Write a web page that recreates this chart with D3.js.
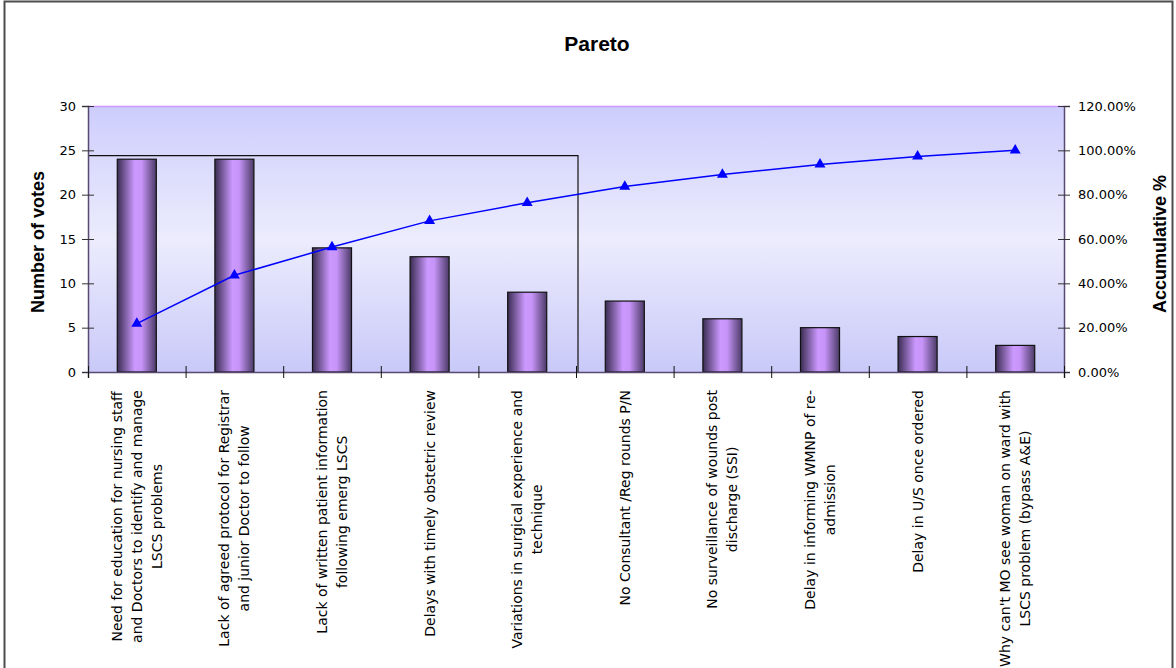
<!DOCTYPE html>
<html>
<head>
<meta charset="utf-8">
<script src="https://cdn.jsdelivr.net/npm/d3@7/dist/d3.min.js"></script>
<style>
  body { margin: 0; background: #fff; }
  svg { display: block; }
</style>
</head>
<body>
<svg id="chart" width="1176" height="668"></svg>
<script>
// values
const categories = [
  "Need for education for nursing staff\nand Doctors to identify and manage\nLSCS problems",
  "Lack of agreed protocol for Registrar\nand junior Doctor to follow",
  "Lack of written patient information\nfollowing emerg LSCS",
  "Delays with timely obstetric review",
  "Variations in surgical experience and\ntechnique",
  "No Consultant /Reg rounds P/N",
  "No surveillance of wounds post\ndischarge (SSI)",
  "Delay in informing WMNP of re-\nadmission",
  "Delay in U/S once ordered",
  "Why can't MO see woman on ward with\nLSCS problem (bypass A&E)"
];
const votes = [24, 24, 14, 13, 9, 8, 6, 5, 4, 3];
const cumulative = [21.82, 43.64, 56.36, 68.18, 76.36, 83.64, 89.09, 93.64, 97.27, 100];
const voteTicks = [0, 5, 10, 15, 20, 25, 30];
const pctTicks = [0, 20, 40, 60, 80, 100, 120];
const focusCount = 5;     // categories inside the hand-drawn box
const focusLevel = 24.4;  // box top, in votes

const plot = { left: 88, right: 1064, top: 106, bottom: 372 };

const svg = d3.select("#chart");
const defs = svg.append("defs");

const bg = defs.append("linearGradient").attr("id", "plotBg")
  .attr("x1", 0).attr("y1", 0).attr("x2", 0).attr("y2", 1);
bg.append("stop").attr("offset", "0%").attr("stop-color", "#cdcdfd");
bg.append("stop").attr("offset", "50%").attr("stop-color", "#ececfd");
bg.append("stop").attr("offset", "100%").attr("stop-color", "#c9c9f9");

const barGrad = defs.append("linearGradient").attr("id", "barFill")
  .attr("x1", 0).attr("y1", 0).attr("x2", 1).attr("y2", 0);
barGrad.append("stop").attr("offset", "0%").attr("stop-color", "#3a2c52");
barGrad.append("stop").attr("offset", "45%").attr("stop-color", "#cc99ff");
barGrad.append("stop").attr("offset", "62%").attr("stop-color", "#c794f8");
barGrad.append("stop").attr("offset", "100%").attr("stop-color", "#4a3a66");

// outer frame
svg.append("rect")
  .attr("x", 4.5).attr("y", 1.5).attr("width", 1168).attr("height", 700)
  .attr("fill", "#fff").attr("stroke", "#4d4d4d").attr("stroke-width", 2);

svg.append("text")
  .attr("x", 597).attr("y", 51)
  .attr("text-anchor", "middle")
  .style("font", "bold 21px 'Liberation Sans', Arial, sans-serif")
  .text("Pareto");

// scales
const xCat = d3.scaleBand().domain(categories).range([plot.left, plot.right]);
const xBar = d3.scaleBand().domain(categories).range([plot.left, plot.right])
  .paddingInner(0.6).paddingOuter(0.3);
const xEdge = d3.scaleLinear().domain([0, categories.length]).range([plot.left, plot.right]);
const y = d3.scaleLinear().domain([0, 30]).range([plot.bottom, plot.top]);
const yPct = d3.scaleLinear().domain([0, 120]).range([plot.bottom, plot.top]);

// plot area
svg.append("rect")
  .attr("x", plot.left).attr("y", plot.top)
  .attr("width", plot.right - plot.left).attr("height", plot.bottom - plot.top)
  .attr("fill", "url(#plotBg)");
svg.append("line")
  .attr("x1", plot.left).attr("x2", plot.right)
  .attr("y1", plot.top + 0.5).attr("y2", plot.top + 0.5)
  .attr("stroke", "#cc99ff").attr("stroke-width", 1.5);

// bars
svg.append("g").selectAll("rect")
  .data(votes)
  .join("rect")
  .attr("x", (d, i) => xBar(categories[i]))
  .attr("y", d => y(d))
  .attr("width", xBar.bandwidth())
  .attr("height", d => y(0) - y(d))
  .attr("fill", "url(#barFill)")
  .attr("stroke", "#111")
  .attr("stroke-width", 1.2);

// box around the first categories
svg.append("path")
  .attr("d", `M${xEdge(0)},${y(focusLevel)}H${xEdge(focusCount) + 2}V${y(0)}`)
  .attr("fill", "none")
  .attr("stroke", "#111")
  .attr("stroke-width", 1.2);

// axes
const axisFont = "13px 'DejaVu Sans', Verdana, sans-serif";

const left = svg.append("g")
  .attr("transform", `translate(${plot.left},0)`)
  .call(d3.axisLeft(y).tickValues(voteTicks).tickSize(6).tickPadding(6));
left.select(".domain").attr("stroke", "#5a4a72").attr("stroke-width", 1.5);
left.selectAll(".tick line").attr("x1", 6).attr("stroke", "#333");
left.selectAll(".tick text").style("font", axisFont).attr("fill", "#000");

const right = svg.append("g")
  .attr("transform", `translate(${plot.right},0)`)
  .call(d3.axisRight(yPct).tickValues(pctTicks).tickSize(6).tickPadding(8)
    .tickFormat(d => d.toFixed(2) + "%"));
right.select(".domain").attr("stroke", "#5a4a72").attr("stroke-width", 1.5);
right.selectAll(".tick line").attr("x1", -6).attr("stroke", "#333");
right.selectAll(".tick text").style("font", axisFont).attr("fill", "#000");

const bottom = svg.append("g")
  .attr("transform", `translate(0,${plot.bottom})`)
  .call(d3.axisBottom(xEdge).tickValues(d3.range(categories.length + 1))
    .tickSize(6).tickFormat(""));
bottom.select(".domain").attr("stroke", "#5a4a72").attr("stroke-width", 1.5);
bottom.selectAll(".tick line").attr("y1", -6).attr("stroke", "#111");

// cumulative line
svg.append("path")
  .datum(cumulative)
  .attr("d", d3.line()
    .x((d, i) => xCat(categories[i]) + xCat.bandwidth() / 2)
    .y(d => yPct(d)))
  .attr("fill", "none")
  .attr("stroke", "#0000ff")
  .attr("stroke-width", 1.5);

svg.append("g").selectAll("path")
  .data(cumulative)
  .join("path")
  .attr("transform", (d, i) =>
    `translate(${xCat(categories[i]) + xCat.bandwidth() / 2},${yPct(d)})`)
  .attr("d", d3.symbol(d3.symbolTriangle, 52))
  .attr("fill", "#0000ff");

// category labels, rotated and centred on the longest line
const labelFont = "14px 'DejaVu Sans', sans-serif";
const labelTop = 390;
const lineGap = 20;
categories.forEach(cat => {
  const lines = cat.split("\n");
  const g = svg.append("g");
  const texts = g.selectAll("text")
    .data(lines)
    .join("text")
    .attr("text-anchor", "middle")
    .attr("dy", "0.35em")
    .style("font", labelFont)
    .attr("fill", "#000")
    .attr("y", (d, i) => (i - (lines.length - 1) / 2) * lineGap)
    .text(d => d);
  const maxW = d3.max(texts.nodes(), n => n.getComputedTextLength());
  texts.attr("x", -maxW / 2);
  g.attr("transform",
    `translate(${xCat(cat) + xCat.bandwidth() / 2},${labelTop}) rotate(-90)`);
});

// axis titles
const titleFont = "bold 18px 'Liberation Sans', Arial, sans-serif";
svg.append("text")
  .attr("transform", "translate(44,242) rotate(-90)")
  .attr("text-anchor", "middle")
  .style("font", titleFont)
  .text("Number of votes");
svg.append("text")
  .attr("transform", "translate(1166,244) rotate(-90)")
  .attr("text-anchor", "middle")
  .style("font", titleFont)
  .text("Accumulative %");
</script>
</body>
</html>
